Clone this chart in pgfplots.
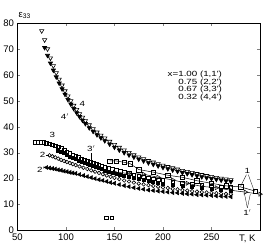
\documentclass[border=0pt]{standalone}
\usepackage{pgfplots}
\pgfplotsset{compat=1.18}
\usepackage{fontspec}
\setmainfont{Liberation Sans}
\newfontfamily\legfont[FakeStretch=1.3]{Liberation Sans}
\begin{document}
\begin{tikzpicture}
\begin{axis}[
 scale only axis, width=242pt, height=207pt,
 xmin=50, xmax=300, ymin=0, ymax=80,
 xtick={50,100,150,200,250}, ytick={0,10,...,80},
 tick align=inside, xtick pos=both, ytick pos=both,
 major tick length=3pt,
 tick label style={font=\fontsize{9.5}{10}\selectfont},
 /pgf/number format/assume math mode=true,
 axis line style={line width=0.6pt},
 clip=false,
 every axis plot/.append style={only marks, mark size=2.2pt, line width=0.6pt, black},
]
% series 1 (x=1.00)
\addplot[sharp plot, line width=0.5pt, mark=square, mark size=2.2pt, mark options={fill=white}] coordinates {
(145,26.8)(152,26.8)(160,26.3)(166,25.8)(175,23.5)(190,22.5)(205,21.3)(220,20.5)(235,19.2)(250,18.2)(265,17.2)(280,16.8)(295,15.2)};
% series 1'
\addplot[sharp plot, line width=0.5pt, mark=triangle, mark size=2.4pt, mark options={rotate=-90,fill=white}] coordinates {
(150,22.5)(165,22)(180,21.7)(195,20.5)(210,19.5)(225,18.2)(240,17)(255,16.5)(270,15.5)(285,14.8)(300,14)};
% series 2' filled left triangles
\addplot[mark=triangle*, mark options={rotate=90}] coordinates {
(80,24.3)(83,24.1)(86,23.9)(89,23.7)(92,23.4)(95,23.2)(98,22.9)(101,22.7)(104,22.4)(107,22.2)(110,22)(114,21.6)(118,21.2)(122,20.8)(126,20.4)(130,20)(134,19.6)(138,19.3)(142,18.9)(146,18.5)(150,18.2)(155,17.7)(160,17.3)(165,16.9)(170,16.5)(175,16.2)(180,15.9)(185,15.6)(190,15.4)(195,15.2)(200,15)(205,14.8)(210,14.6)(215,14.5)(220,14.3)(225,14.1)(230,14)(235,13.8)(240,13.7)(245,13.6)(250,13.5)(255,13.3)(260,13.2)(265,13.1)(270,13)};
% series 2 open circles
\addplot[mark=o, mark size=1.8pt] coordinates {
(83,29)(86,28.6)(89,28.2)(92,27.7)(95,27.2)(98,26.8)(101,26.4)(104,26)(107,25.6)(110,25.2)(114,24.7)(118,24.2)(122,23.7)(126,23.2)(130,22.7)(134,22.2)(138,21.7)(142,21.2)(146,20.7)(150,20.3)(155,19.8)(160,19.3)(165,18.9)(170,18.5)(175,18.1)(180,17.8)(185,17.5)(190,17.2)(195,16.9)(200,16.6)(205,16.4)(210,16.1)(215,15.9)(220,15.6)(225,15.4)(230,15.2)(235,15)(240,14.8)(245,14.7)(250,14.5)(255,14.4)(260,14.2)(265,14.1)(270,14)};
% series 3' filled squares
\addplot[mark=square*, mark size=1.5pt] coordinates {
(92,30.8)(95,30.3)(98,29.8)(101,29.2)(104,28.6)(107,28)(110,27.5)(113,27)(116,26.5)(119,26)(122,25.6)(125,25.2)(128,24.8)(131,24.4)(134,24)(137,23.6)(140,23.2)(144,22.8)(148,22.4)(152,22)(156,21.6)(160,21.2)(165,20.8)(170,20.3)(175,19.9)(180,19.5)(185,19.1)(190,18.7)(195,18.4)(200,18.1)(210,17.6)(220,17.1)(230,16.7)(240,16.3)(250,16)(260,15.7)(270,15.4)};
% series 3 open squares
\addplot[mark=square, mark size=1.8pt, mark options={fill=white}] coordinates {
(68,34)(71,34)(74,34)(77,33.9)(80,33.7)(83,33.4)(86,33.1)(89,32.7)(92,32.2)(95,31.6)(98,31)(101,30.4)(104,29.8)(107,29.2)(110,28.7)(113,28.2)(116,27.7)(119,27.2)(122,26.8)(125,26.4)(128,26)(131,25.6)(134,25.2)(137,24.8)(140,24.4)(144,24)(148,23.6)(152,23.2)(156,22.8)(160,22.4)(165,22)(170,21.5)(175,21.1)(180,20.7)(185,20.3)(190,19.9)(195,19.6)(200,19.3)(210,18.8)(220,18.3)(230,17.9)(240,17.5)(250,17.2)(260,16.9)(270,16.6)};
% series 4' filled down triangles
\addplot[mark=triangle*, mark size=2.4pt, mark options={rotate=180}] coordinates {
(78,70.5)(81,67.5)(84,64.5)(87,61.8)(90,59.2)(93,56.8)(96,54.6)(99,52.5)(102,50.5)(105,48.7)(108,47)(111,45.4)(114,43.9)(117,42.5)(120,41.2)(124,39.6)(128,38.2)(132,36.9)(136,35.7)(140,34.6)(145,33.3)(150,32.1)(155,31)(160,30)(165,29.1)(170,28.3)(175,27.5)(180,26.8)(185,26.1)(190,25.5)(195,24.9)(200,24.3)(205,23.8)(210,23.3)(215,22.8)(220,22.3)(225,21.9)(230,21.5)(235,21.1)(240,20.7)(245,20.3)(250,20)(255,19.7)(260,19.4)(265,19.1)(270,18.8)};
% series 4 open down triangles
\addplot[mark=triangle, mark size=2.5pt, mark options={rotate=180,fill=white}] coordinates {
(75,77)(78,73.5)(81,70)(84,66.5)(87,63.5)(90,60.8)(93,58.3)(96,56)(99,53.8)(102,51.8)(105,50)(108,48.2)(111,46.6)(114,45)(117,43.6)(120,42.3)(124,40.7)(128,39.2)(132,37.9)(136,36.7)(140,35.6)(145,34.3)(150,33.1)(155,32)(160,31)(165,30)(170,29.1)(175,28.3)(180,27.6)(185,26.9)(190,26.3)(195,25.7)(200,25.1)(205,24.6)(210,24.1)(215,23.6)(220,23.1)(225,22.7)(230,22.3)(235,21.9)(240,21.5)(245,21.1)(250,20.8)(255,20.4)(260,20.1)(265,19.8)(270,19.5)};
% isolated squares
\addplot[mark=square, mark size=1.6pt, line width=0.5pt] coordinates {(141.5,5)(147.5,5)};
% curve labels
\begin{scope}[font=\legfont\fontsize{7.5}{8}\selectfont]
\node at (axis cs:117,49) {4};
\node at (axis cs:99,44) {4$'$};
\node at (axis cs:86,37) {3};
\node at (axis cs:126,31.5) {3$'$};
\draw[line width=0.3pt] (axis cs:126,29.8) -- (axis cs:126,26.6);
\node at (axis cs:76,29) {2};
\draw[line width=0.3pt] (axis cs:79,29) -- (axis cs:82,29);
\node at (axis cs:74.5,23.3) {2$'$};
\node at (axis cs:287,23) {1};
\draw[line width=0.3pt] (axis cs:286,21.5) -- (axis cs:280,17);
\draw[line width=0.3pt] (axis cs:288,21.5) -- (axis cs:294,15.3);
\node at (axis cs:287,7) {1$'$};
\draw[line width=0.3pt] (axis cs:287,8.7) -- (axis cs:284,14.2);
\draw[line width=0.3pt] (axis cs:287,8.7) -- (axis cs:290,14);
\node[anchor=base east] at (axis cs:264.5,59.3) {x=1.00 (1,1')};
\node[anchor=base east] at (axis cs:264.5,56.4) {0.75 (2,2')};
\node[anchor=base east] at (axis cs:264.5,53.5) {0.67 (3,3')};
\node[anchor=base east] at (axis cs:264.5,50.4) {0.32 (4,4')};
\end{scope}
\node[anchor=north, font=\fontsize{9.5}{10}\selectfont] at (axis cs:287,-0.3) {T, K};
\node[anchor=south west, font=\fontsize{9.5}{10}\selectfont, inner sep=0pt] at ([xshift=1pt,yshift=4pt]rel axis cs:0,1) {ε\textsubscript{33}};
\end{axis}
\path (current axis.north east) ++(8pt,23pt);
\path (current axis.south west) ++(0,-16pt);
\end{tikzpicture}
\end{document}
